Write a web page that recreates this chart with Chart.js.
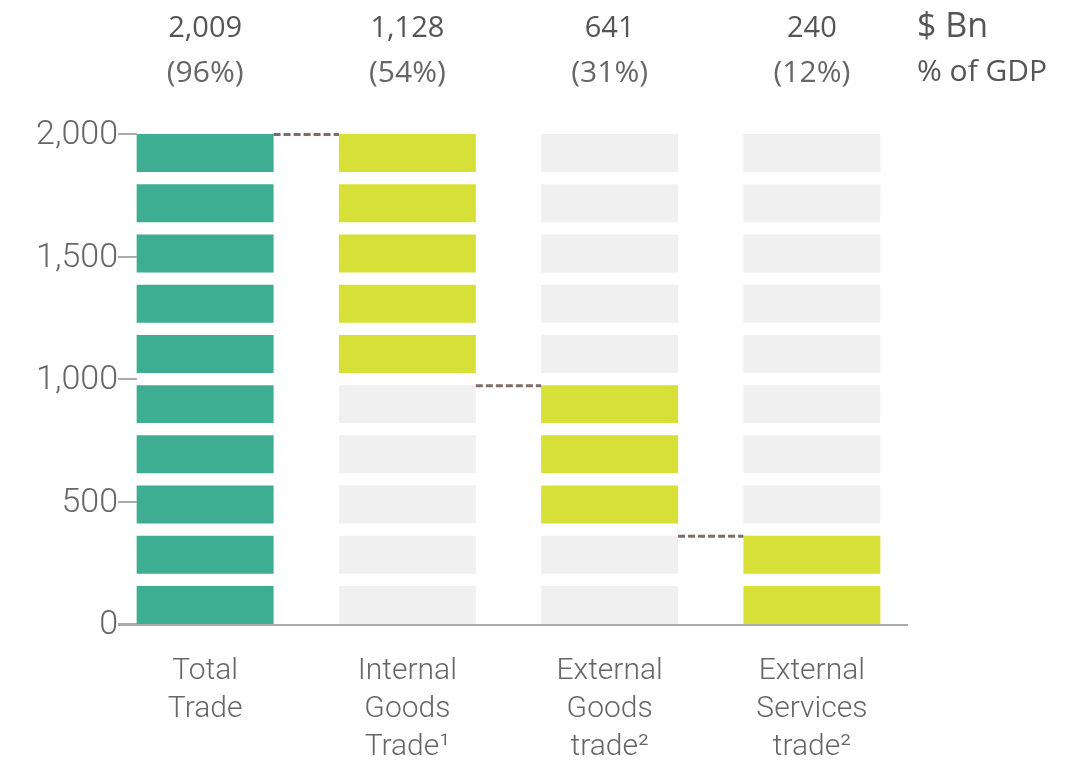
<!DOCTYPE html>
<html>
<head>
<meta charset="utf-8">
<script src="https://cdn.jsdelivr.net/npm/chart.js@4.4.1/dist/chart.umd.min.js"></script>
<style>
  html, body { margin: 0; padding: 0; background: #fff; }
  #wrap { width: 1084px; height: 763px; position: relative; }
</style>
</head>
<body>
<div id="wrap"><canvas id="tradeChart"></canvas></div>
<script>
// Categorias e valores
const categories = [
    ["Total", "Trade"],
    ["Internal", "Goods", "Trade¹"],
    ["External", "Goods", "trade²"],
    ["External", "Services", "trade²"]
];
const valuesBn = [2009, 1128, 641, 240];
const pctOfGdp = [96, 54, 31, 12];
// blocos preenchidos em cada coluna (o primeiro bloco e quantos)
const firstBlock = [0, 5, 2, 0];
const filledBlocks = [10, 5, 3, 2];
const yTicks = [0, 500, 1000, 1500, 2000];

const BLOCK_COUNT = 10;
const BLOCK_STEP = 205;   // passo de cada bloco em unidades do eixo
const BLOCK_SIZE = 155;   // altura visível do bloco

const fillColors = ['#3dae91', '#d7e036', '#d7e036', '#d7e036'];
const emptyColor = '#f0f0f0';

function isFilled(col, b) {
    return b >= firstBlock[col] && b < firstBlock[col] + filledBlocks[col];
}

// um dataset por "andar" de blocos
const datasets = [];
for (let b = 0; b < BLOCK_COUNT; b++) {
    datasets.push({
        data: categories.map(() => [b * BLOCK_STEP, b * BLOCK_STEP + BLOCK_SIZE]),
        backgroundColor: categories.map((c, i) => isFilled(i, b) ? fillColors[i] : emptyColor),
        borderWidth: 0,
        borderSkipped: false,
        grouped: false,
        barPercentage: 0.677,
        categoryPercentage: 1
    });
}

// eixo, linhas tracejadas e rótulos de cima
const decorPlugin = {
    id: 'decor',
    afterDatasetsDraw(chart) {
        const { ctx, chartArea, scales } = chart;
        const x = scales.x, y = scales.y;
        ctx.save();

        // marcas e rótulos do eixo y
        ctx.strokeStyle = '#ababab';
        ctx.lineWidth = 2;
        ctx.fillStyle = '#666';
        ctx.font = '300 34px Roboto';
        ctx.textAlign = 'right';
        ctx.textBaseline = 'middle';
        y.ticks.forEach(t => {
            const py = Math.round(y.getPixelForValue(t.value));
            ctx.beginPath();
            ctx.moveTo(chartArea.left + 14, py);
            ctx.lineTo(chartArea.left + 33, py);
            ctx.stroke();
            ctx.fillText(t.value.toLocaleString('en-US'), chartArea.left + 14, py + 1);
        });
        // linha de base
        const py0 = Math.round(y.getPixelForValue(0)) + 1;
        ctx.beginPath();
        ctx.moveTo(chartArea.left + 14, py0);
        ctx.lineTo(chartArea.right - 5, py0);
        ctx.stroke();

        // conectores tracejados
        ctx.strokeStyle = '#7d6e69';
        ctx.lineWidth = 3;
        ctx.setLineDash([7, 3]);
        for (let i = 0; i < categories.length - 1; i++) {
            const topBlock = firstBlock[i + 1] + filledBlocks[i + 1] - 1;
            const fromBar = chart.getDatasetMeta(topBlock).data[i];
            const toBar = chart.getDatasetMeta(topBlock).data[i + 1];
            const ly = y.getPixelForValue(topBlock * BLOCK_STEP + BLOCK_SIZE) + 0.5;
            ctx.beginPath();
            ctx.moveTo(fromBar.x + fromBar.width / 2, ly);
            ctx.lineTo(toBar.x - toBar.width / 2, ly);
            ctx.stroke();
        }
        ctx.setLineDash([]);

        // valores no topo
        ctx.textAlign = 'center';
        categories.forEach((c, i) => {
            const cx = x.getPixelForValue(i);
            ctx.fillStyle = '#555';
            ctx.font = '29px "Open Sans"';
            ctx.fillText(valuesBn[i].toLocaleString('en-US'), cx, 29);
            ctx.fillStyle = '#666';
            ctx.font = '30px "Open Sans"';
            ctx.fillText('(' + pctOfGdp[i] + '%)', cx, 73);
        });
        ctx.textAlign = 'left';
        ctx.fillStyle = '#555';
        ctx.font = '34px "Open Sans"';
        ctx.fillText('$ Bn', 917, 27);
        ctx.font = '30px "Open Sans"';
        ctx.fillText('% of GDP', 917, 72);
        ctx.restore();
    }
};

new Chart(document.getElementById('tradeChart'), {
    type: 'bar',
    data: { labels: categories, datasets: datasets },
    options: {
        responsive: true,
        maintainAspectRatio: false,
        animation: false,
        layout: { padding: { top: 134, left: 34, right: 171, bottom: 0 } },
        plugins: { legend: { display: false }, tooltip: { enabled: false } },
        scales: {
            x: {
                grid: { display: false, drawTicks: false },
                border: { display: false },
                ticks: {
                    color: '#666',
                    font: { family: 'Roboto', size: 30, weight: 300, lineHeight: 1.27 },
                    padding: 28,
                    maxRotation: 0,
                    autoSkip: false
                },
                afterFit: scale => { scale.height = 139; }
            },
            y: {
                min: 0,
                max: 2000,
                grid: { display: false, drawTicks: false },
                border: { display: false },
                afterBuildTicks: scale => { scale.ticks = yTicks.map(v => ({ value: v })); },
                ticks: { display: false },
                afterFit: scale => { scale.width = 70; }
            }
        }
    },
    plugins: [decorPlugin]
});
</script>
</body>
</html>
